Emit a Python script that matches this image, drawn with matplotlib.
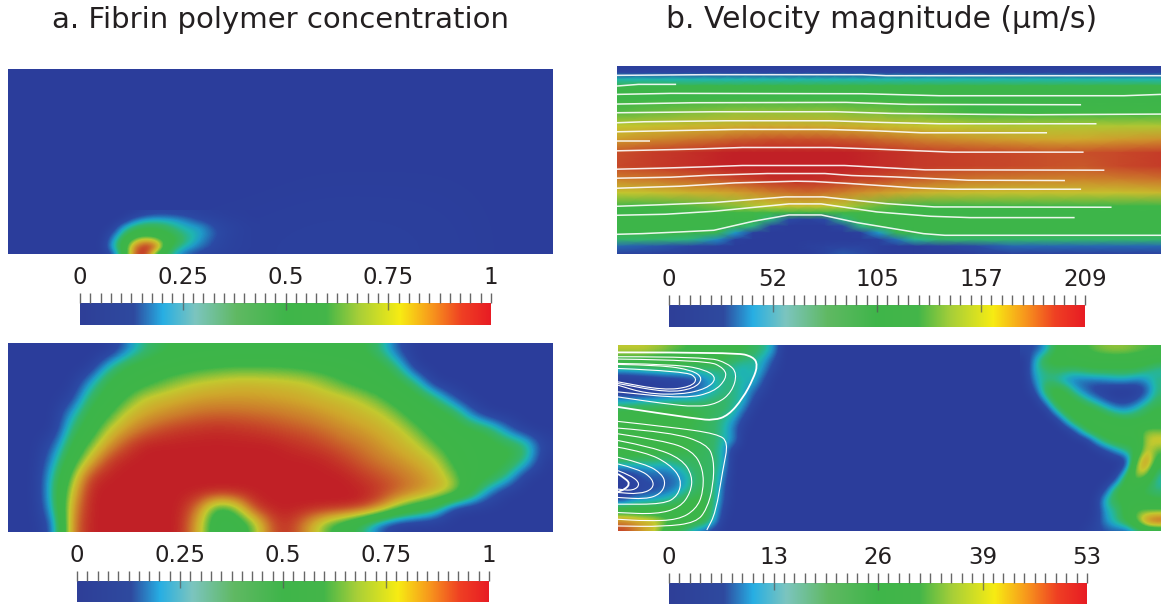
import numpy as np
import matplotlib
matplotlib.use('Agg')
import matplotlib.pyplot as plt
from matplotlib.colors import LinearSegmentedColormap
from matplotlib.path import Path
from matplotlib.patches import PathPatch

W, H = 1161, 606

titles = ['a. Fibrin polymer concentration', 'b. Velocity magnitude (µm/s)']

# colour bars, top row then bottom row
bar_labels_a_top = ['0', '0.25', '0.5', '0.75', '1']
bar_labels_b_top = ['0', '52', '105', '157', '209']
bar_labels_a_bot = ['0', '0.25', '0.5', '0.75', '1']
bar_labels_b_bot = ['0', '13', '26', '39', '53']

bar_stops = [(0, '#2e3f98'), (.13, '#2f4a9f'), (.2, '#27aee3'), (.28, '#7cc5bf'), (.38, '#60b963'),
             (.5, '#3fb54a'), (.6, '#44b649'), (.68, '#a8cf38'), (.78, '#f7ec13'), (.86, '#f7941d'),
             (.93, '#ef4023'), (1, '#e81c24')]
field_stops = [(0, '#2b3d9b'), (.1, '#2b4aa5'), (.2, '#1f9ac8'), (.25, '#1fb5b0'), (.32, '#35b56a'),
               (.4, '#3cb54a'), (.58, '#3fb648'), (.7, '#c3c92f'), (.78, '#cfa82c'), (.86, '#cc7a2b'),
               (.93, '#c74a29'), (1, '#c12026')]

# a, top panel: background and the small blob near the floor
a_top_bg = [
    [0, 0, 0, 0, 0, 0, 0, 0],
    [0, 0, 0, 0, 0, 0, 0, 0],
    [0, 0, 0, 0, .01, .01, .01, 0],
    [0, 0, .01, .02, .03, .03, .02, 0],
]
a_top_blob = [
    [0, 0, 0, .02, .06, .08, .08, .07, .06, .04, .03, .02, .01, .01, 0],
    [0, 0, .03, .15, .22, .24, .23, .2, .15, .1, .07, .05, .03, .02, .01],
    [0, .02, .2, .32, .38, .38, .33, .27, .22, .2, .12, .07, .05, .03, .02],
    [0, .1, .3, .45, .48, .46, .42, .33, .27, .22, .15, .08, .05, .03, .02],
    [0, .18, .42, .65, .78, .7, .5, .38, .28, .2, .12, .07, .04, .03, .02],
    [0, .22, .45, .85, 1, .9, .45, .3, .22, .15, .1, .06, .04, .03, .02],
    [0, .1, .4, .9, 1, .55, .35, .2, .12, .08, .05, .04, .03, .02, .02],
]

# a, bottom panel
a_bot = [
    [0, 0, 0, 0, 0, 0, .15, .3, .38, .42, .44, .44, .45, .45, .45, .45, .44, .43, .42, .42, .3, .1, 0, 0, 0, 0, 0, 0, 0, 0],
    [0, 0, 0, 0, 0, .25, .42, .47, .5, .52, .55, .57, .58, .58, .58, .57, .55, .52, .5, .47, .45, .3, 0, 0, 0, 0, 0, 0, 0, 0],
    [0, 0, 0, 0, .2, .42, .48, .53, .6, .66, .7, .72, .74, .74, .73, .72, .7, .65, .58, .52, .47, .43, .3, 0, 0, 0, 0, 0, 0, 0],
    [0, 0, 0, .05, .35, .45, .58, .71, .74, .77, .79, .8, .8, .8, .79, .78, .76, .74, .72, .68, .6, .5, .45, .35, .1, 0, 0, 0, 0, 0],
    [0, 0, 0, .22, .42, .55, .72, .78, .82, .85, .88, .89, .89, .88, .87, .85, .83, .8, .77, .74, .71, .62, .5, .46, .42, .15, 0, 0, 0, 0],
    [0, 0, 0, .32, .48, .7, .8, .88, .93, .96, .97, .98, .97, .96, .94, .92, .9, .87, .83, .8, .76, .72, .62, .5, .46, .44, .38, .15, 0, 0],
    [0, 0, .12, .4, .62, .8, .93, 1, 1, 1, 1, 1, 1, 1, 1, .98, .96, .93, .89, .86, .81, .76, .71, .6, .5, .46, .44, .42, .35, .05],
    [0, 0, .2, .5, .75, .95, 1, 1, 1, 1, 1, 1, 1, 1, 1, 1, 1, .99, .95, .9, .86, .82, .77, .72, .55, .47, .44, .42, .3, 0],
    [0, 0, .28, .62, .95, 1, 1, 1, 1, 1, 1, 1, 1, 1, 1, 1, 1, 1, 1, .96, .92, .88, .83, .77, .65, .47, .44, .3, 0, 0],
    [0, 0, .3, .72, 1, 1, 1, 1, 1, 1, 1, 1, 1, 1, 1, 1, 1, 1, 1, 1, .96, .9, .84, .78, .72, .45, .15, 0, 0, 0],
    [0, 0, .25, .8, 1, 1, 1, 1, 1, 1, .85, .5, .6, .95, 1, 1, 1, 1, 1, .97, .85, .62, .47, .35, .02, 0, 0, 0, 0, 0],
    [0, 0, .12, .85, 1, 1, 1, 1, 1, 1, .75, .45, .45, .6, .92, .97, .8, .6, .47, .3, .1, 0, 0, 0, 0, 0, 0, 0, 0, 0],
]

# b, top panel, on an uneven grid that is finer round the bump
b_top_x = [50, 150, 250, 330, 380, 430, 480, 530, 580, 630, 680, 730, 780, 830, 880, 950, 1050, 1150, 1250, 1350, 1450, 1568]
b_top_y = [18, 38, 58, 78, 118, 158, 198, 238, 278, 318, 358, 398, 438, 458, 478, 498, 518, 538, 558, 581]
b_top = [
    [0] * 22,
    [.06] * 22,
    [.25] * 22,
    [.42] * 22,
    [.48, .5, .5, .52, .52, .52, .52, .52, .52, .52, .52, .52, .52, .5, .5, .5, .48, .48, .48, .48, .48, .48],
    [.6, .62, .64, .65, .66, .66, .66, .66, .66, .66, .65, .64, .64, .62, .62, .6, .58, .56, .56, .56, .56, .56],
    [.7, .72, .74, .75, .76, .77, .77, .77, .77, .76, .76, .75, .74, .73, .72, .7, .69, .68, .68, .68, .68, .68],
    [.8, .83, .86, .88, .9, .91, .92, .92, .92, .92, .91, .9, .88, .87, .85, .83, .81, .79, .78, .78, .8, .82],
    [.92, .95, .97, .99, 1, 1, 1, 1, 1, 1, 1, .99, .98, .97, .96, .95, .94, .93, .92, .92, .93, .95],
    [.93, .95, .97, .99, 1, 1, 1, 1, 1, 1, 1, .99, .98, .97, .96, .95, .94, .93, .92, .91, .93, .95],
    [.84, .86, .89, .91, .93, .95, .97, .98, .98, .97, .96, .94, .93, .91, .9, .88, .86, .85, .84, .84, .85, .87],
    [.7, .72, .75, .77, .79, .82, .85, .87, .88, .87, .85, .82, .8, .78, .76, .74, .73, .72, .72, .72, .72, .74],
    [.55, .56, .6, .63, .65, .68, .7, .72, .72, .71, .69, .65, .62, .59, .57, .55, .54, .54, .54, .54, .54, .54],
    [.48, .49, .52, .55, .57, .58, .58, .56, .55, .56, .58, .58, .55, .52, .49, .48, .47, .47, .47, .47, .47, .47],
    [.45, .45, .46, .47, .47, .46, .3, .1, .04, .1, .3, .44, .46, .46, .45, .45, .45, .45, .45, .45, .45, .45],
    [.45, .45, .45, .45, .44, .3, .05, 0, 0, 0, .08, .3, .43, .45, .45, .45, .45, .45, .45, .45, .45, .45],
    [.42, .42, .42, .38, .2, .03, 0, 0, 0, 0, 0, .03, .2, .38, .42, .42, .42, .42, .42, .42, .42, .42],
    [.32, .32, .3, .18, .04, 0, 0, 0, 0, 0, 0, 0, .03, .15, .28, .32, .32, .32, .32, .32, .32, .32],
    [.14, .12, .08, .03, 0, 0, 0, 0, .02, .04, .05, .05, .02, 0, 0, .05, .1, .14, .14, .14, .14, .14],
    [.03, .03, .01, 0, 0, 0, 0, 0, 0, .06, .12, .1, .02, 0, 0, 0, .02, .03, .03, .03, .03, .03],
]

b_top_lines = [
    [(50, 46), (300, 44), (735, 44), (800, 47), (1568, 47)],
    [(50, 78), (110, 73), (215, 73)],
    [(50, 103), (200, 100), (735, 101), (950, 107), (1465, 107), (1568, 103)],
    [(50, 132), (265, 128), (690, 127), (865, 133), (1345, 134)],
    [(50, 158), (320, 155), (660, 155), (815, 160), (1080, 163), (1215, 164), (1568, 162)],
    [(50, 188), (125, 185), (355, 182), (645, 182), (790, 187), (950, 191), (1388, 191)],
    [(50, 215), (185, 212), (380, 208), (635, 208), (770, 212), (900, 218), (1250, 218)],
    [(50, 242), (142, 242)],
    [(50, 272), (260, 267), (400, 262), (645, 262), (750, 266), (845, 270), (985, 276), (1352, 276)],
    [(50, 327), (170, 324), (295, 320), (400, 316), (685, 316), (755, 320), (910, 329), (1410, 330)],
    [(50, 354), (200, 351), (310, 345), (470, 340), (630, 340), (705, 346), (820, 350), (1030, 360), (1300, 361)],
    [(50, 384), (225, 378), (380, 368), (550, 363), (600, 364), (700, 370), (880, 383), (985, 387), (1345, 387)],
    [(50, 438), (160, 434), (320, 427), (520, 410), (625, 410), (800, 430), (935, 440), (1430, 441)],
    [(50, 465), (185, 462), (320, 453), (530, 431), (620, 431), (775, 455), (925, 468), (1035, 472), (1327, 472)],
    [(50, 522), (120, 520), (225, 515), (320, 510), (430, 483), (530, 464), (620, 464), (720, 487), (905, 520),
     (965, 525), (1568, 525)],
]

# b, bottom panel: left vortices and the region at the right, the rest is still
b_bot_left = [
    [.7, .7, .7, .68, .66, .62, .6, .56, .5, .47, .45, .42, .4, .35, .3, .2, 0],
    [.55, .55, .55, .52, .5, .48, .47, .45, .45, .42, .38, .34, .3, .28, .22, .1, 0],
    [.2, .22, .25, .28, .3, .3, .3, .28, .3, .3, .3, .25, .22, .28, .18, .05, 0],
    [0, 0, 0, 0, .02, .03, .05, .08, .15, .22, .3, .3, .25, .25, .1, 0, 0],
    [0, 0, 0, .02, .03, .05, .05, .1, .17, .25, .3, .3, .24, .15, .05, 0, 0],
    [.2, .2, .22, .22, .25, .27, .28, .28, .3, .32, .33, .3, .24, .08, 0, 0, 0],
    [.4, .42, .42, .42, .42, .42, .42, .4, .38, .36, .33, .28, .15, .02, 0, 0, 0],
    [.47, .47, .47, .46, .46, .44, .42, .4, .37, .33, .28, .2, .06, 0, 0, 0, 0],
    [.48, .5, .5, .5, .48, .46, .42, .38, .36, .33, .27, .15, .02, 0, 0, 0, 0],
    [.5, .5, .5, .48, .46, .44, .42, .4, .36, .33, .26, .2, 0, 0, 0, 0, 0],
    [.45, .45, .45, .45, .42, .42, .4, .38, .36, .33, .22, .02, 0, 0, 0, 0, 0],
    [.35, .35, .32, .32, .3, .32, .34, .36, .35, .33, .25, 0, 0, 0, 0, 0, 0],
    [.1, .12, .15, .18, .15, .2, .25, .32, .35, .33, .2, 0, 0, 0, 0, 0, 0],
    [0, .05, .1, .1, .12, .12, .2, .3, .35, .33, .15, 0, 0, 0, 0, 0, 0],
    [0, .05, .08, .1, .12, .18, .25, .33, .38, .32, .12, 0, 0, 0, 0, 0, 0],
    [.1, .2, .22, .25, .28, .32, .38, .42, .42, .33, .1, 0, 0, 0, 0, 0, 0],
    [.5, .5, .48, .48, .46, .46, .44, .44, .42, .3, .05, 0, 0, 0, 0, 0, 0],
    [.85, .82, .78, .75, .68, .58, .5, .45, .42, .25, .02, 0, 0, 0, 0, 0, 0],
    [.95, .88, .8, .72, .55, .38, .3, .2, .12, .05, 0, 0, 0, 0, 0, 0, 0],
]
b_bot_right = [
    [.08, .1, .2, .4, .45, .52, .58, .62, .65, .66, .65, .62, .6, .58],
    [0, .22, .42, .46, .47, .47, .48, .5, .5, .5, .5, .5, .48, .42],
    [0, .25, .3, .35, .33, .32, .36, .38, .38, .38, .38, .36, .3, .25],
    [0, .2, .3, .27, .18, .14, .14, .15, .17, .2, .2, .16, .2, .3],
    [0, .1, .38, .46, .4, .22, .12, .05, .03, 0, 0, .02, .1, .3],
    [0, 0, .2, .44, .47, .42, .3, .2, .1, .05, .05, .1, .22, .35],
    [0, 0, 0, .25, .45, .47, .47, .42, .32, .22, .2, .28, .38, .42],
    [0, 0, 0, 0, .22, .45, .47, .48, .47, .45, .42, .42, .42, .45],
    [0, 0, 0, 0, 0, .12, .38, .46, .48, .48, .48, .52, .64, .62],
    [0, 0, 0, 0, 0, 0, 0, .22, .38, .45, .45, .42, .7, .75],
    [0, 0, 0, 0, 0, 0, 0, 0, .08, .2, .32, .4, .74, .6],
    [0, 0, 0, 0, 0, 0, 0, 0, 0, 0, .02, .6, .9, .5],
    [0, 0, 0, 0, 0, 0, 0, 0, 0, 0, .2, .75, .75, .3],
    [0, 0, 0, 0, 0, 0, 0, 0, 0, .1, .5, .6, .45, .25],
    [0, 0, 0, 0, 0, 0, 0, 0, .1, .42, .48, .42, .35, .3],
    [0, 0, 0, 0, 0, 0, 0, .02, .3, .38, .45, .45, .45, .42],
    [0, 0, 0, 0, 0, 0, 0, .02, .22, .28, .45, .6, .6, .6],
    [0, 0, 0, 0, 0, 0, 0, .05, .2, .3, .42, .62, .92, 1],
    [0, 0, 0, 0, 0, 0, .03, .08, .1, .12, .1, .25, .35, .35],
]

b_bot_loops = [
    [(52, 52), (380, 52), (430, 65), (442, 90), (430, 130), (400, 190), (360, 240), (320, 255), (270, 250), (52, 215)],
    [(52, 65), (300, 65), (360, 85), (385, 115), (370, 170), (330, 205), (270, 215), (180, 205), (52, 185)],
    [(52, 72), (300, 75), (350, 100), (355, 130), (320, 170), (240, 190), (52, 170)],
    [(52, 85), (220, 88), (300, 105), (328, 130), (300, 160), (230, 178), (130, 175), (52, 150)],
    [(52, 88), (170, 90), (260, 105), (290, 130), (265, 160), (190, 172), (52, 145)],
    [(52, 100), (240, 108), (275, 130), (255, 155), (180, 165), (52, 140)],
    [(52, 258), (200, 275), (330, 295), (360, 320), (345, 400), (325, 530), (300, 582)],
    [(52, 278), (200, 290), (300, 325), (320, 370), (318, 450), (300, 520), (270, 560), (180, 572), (52, 570)],
    [(52, 295), (180, 315), (260, 345), (290, 400), (290, 470), (270, 520), (220, 552), (130, 555), (52, 550)],
    [(52, 315), (150, 335), (230, 370), (260, 420), (255, 470), (225, 515), (160, 535), (52, 530)],
    [(52, 335), (130, 350), (195, 385), (230, 430), (220, 480), (180, 505), (52, 505)],
    [(52, 365), (130, 385), (175, 415), (185, 445), (170, 475), (130, 490), (52, 485)],
    [(52, 385), (110, 400), (150, 430), (150, 460), (110, 475), (52, 470)],
    [(52, 405), (90, 420), (115, 445), (95, 465), (52, 460)],
    [(52, 415), (75, 430), (85, 445), (72, 460), (52, 468)],
]


def pixel_axes(fig, left, top, right, bottom):
    ax = fig.add_axes([left / W, 1 - bottom / H, (right - left) / W, (bottom - top) / H])
    ax.set_axis_off()
    return ax


def show_field(ax, values, extent, cmap):
    ax.imshow(np.array(values, dtype=float), cmap=cmap, vmin=0, vmax=1, extent=extent, aspect='auto',
              interpolation='bicubic', interpolation_stage='data')


def smooth_line(ax, pts, lw=1.0):
    # quadratic curves through the midpoints, so the loops have no corners
    verts = [pts[0]]
    codes = [Path.MOVETO]
    for i in range(1, len(pts) - 1):
        mid = ((pts[i][0] + pts[i + 1][0]) / 2, (pts[i][1] + pts[i + 1][1]) / 2)
        verts += [pts[i], mid]
        codes += [Path.CURVE3, Path.CURVE3]
    verts.append(pts[-1])
    codes.append(Path.LINETO)
    ax.add_patch(PathPatch(Path(verts, codes), fill=False, edgecolor='white', lw=lw))


def draw_bar(fig, left, top, right, bottom, labels, label_y, cmap):
    ax = pixel_axes(fig, left, top, right, bottom)
    ax.imshow(np.linspace(0, 1, 256).reshape(1, -1), cmap=cmap, aspect='auto', extent=(0, 1, 0, 1))
    ax.set_xlim(0, 1)
    ax.set_ylim(0, 1)
    h = bottom - top
    ticks = np.arange(41) / 40
    ax.vlines(ticks, 1, 1 + 10 / h, color='#666666', lw=1.0, transform=ax.get_xaxis_transform(), clip_on=False)
    ax.vlines(ticks[10:-1:10], 1 - 7 / h, 1, color='#555555', lw=1.0, alpha=0.7,
              transform=ax.get_xaxis_transform(), clip_on=False)
    for i, lab in enumerate(labels):
        fig.text((left + (right - left) * i / 4) / W, 1 - label_y / H, lab, ha='center', va='center',
                 fontsize=16.5, color='#231f20')


def main():
    field_cmap = LinearSegmentedColormap.from_list('field', field_stops)
    bar_cmap = LinearSegmentedColormap.from_list('bar', bar_stops)

    fig = plt.figure(figsize=(W / 100, H / 100), dpi=100, facecolor='white')

    fig.text(280 / W, 1 - 20 / H, titles[0], ha='center', va='center', fontsize=21, color='#231f20')
    fig.text(882 / W, 1 - 20 / H, titles[1], ha='center', va='center', fontsize=21.4, color='#231f20')

    ax = pixel_axes(fig, 8, 69, 553, 254)
    show_field(ax, a_top_bg, (22, 1521, 581, 27), field_cmap)
    show_field(ax, a_top_blob, (265, 715, 590, 450), field_cmap)
    ax.set_xlim(22, 1521)
    ax.set_ylim(581, 27)

    ax = pixel_axes(fig, 8, 343, 553, 532)
    show_field(ax, a_bot, (22, 1521, 590, 24), field_cmap)

    ax = pixel_axes(fig, 617, 66, 1161, 254)
    ax.pcolormesh(b_top_x, b_top_y, np.array(b_top, dtype=float), cmap=field_cmap, vmin=0, vmax=1, shading='gouraud')
    for line in b_top_lines:
        xs, ys = zip(*line)
        ax.plot(xs, ys, color='white', lw=1.1, alpha=0.9, solid_capstyle='butt')
    ax.set_xlim(50, 1568)
    ax.set_ylim(581, 18)

    ax = pixel_axes(fig, 618, 345, 1161, 531)
    show_field(ax, [[0]], (52, 1568, 585, 30), field_cmap)
    show_field(ax, b_bot_left, (52, 527, 600, 30), field_cmap)
    show_field(ax, b_bot_right, (1174, 1568, 600, 30), field_cmap)
    for i, loop in enumerate(b_bot_loops):
        smooth_line(ax, loop, lw=1.3 if i in (0, 14) else 0.8)
    ax.set_xlim(52, 1568)
    ax.set_ylim(585, 30)

    draw_bar(fig, 80, 303, 491, 325, bar_labels_a_top, 278, bar_cmap)
    draw_bar(fig, 669, 305, 1085, 327, bar_labels_b_top, 279, bar_cmap)
    draw_bar(fig, 77, 581, 489, 602, bar_labels_a_bot, 555, bar_cmap)
    draw_bar(fig, 669, 583, 1087, 604, bar_labels_b_bot, 557, bar_cmap)

    fig.savefig('out.png', dpi=100)


if __name__ == "__main__":
    main()
